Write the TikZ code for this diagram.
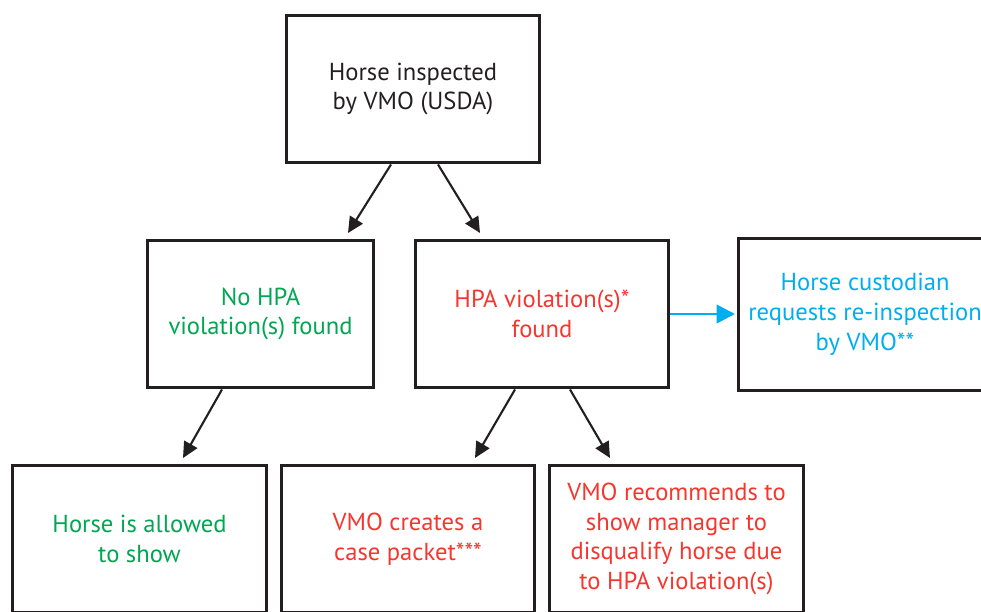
\documentclass[tikz,border=0pt]{standalone}
\usepackage{fontspec}
\setmainfont{PT Sans}
\usetikzlibrary{arrows.meta,positioning}
\usepackage{xcolor}
\definecolor{mblack}{HTML}{231F20}
\definecolor{mgreen}{HTML}{00A651}
\definecolor{mred}{HTML}{F5362E}
\definecolor{mblue}{HTML}{00AEEF}
\tikzstyle{box}=[rectangle, draw=mblack, line width=1.7pt, minimum width=5.08cm, minimum height=2.96cm, align=center, inner sep=0pt, font=\fontsize{14}{17}\selectfont]
\tikzstyle{l1}=[line width=1.2pt, draw=mblack, -{Triangle[length=9pt,width=8.5pt]}]

\begin{document}
\begin{tikzpicture}[x=0.02cm, y=-0.02cm]
    \useasboundingbox (0,0) rectangle (981,612);
    \clip (0,0) rectangle (981,612);

    \node[box, text=mblack] at (413,89) (top) {Horse inspected\\by VMO (USDA)};
    \node[box, minimum width=4.54cm, text=mgreen] at (260.5,314) (nohpa) {No HPA\\violation(s) found};
    \node[box, text=mred] at (542,314) (hpa) {HPA violation(s)*\\found};
    \node[box, minimum height=3.06cm, text=mblue] at (865,314.5) (recheck) {Horse custodian\\requests re-inspection\\by VMO**};
    \node[box, text=mgreen] at (139.5,539) (allowed) {Horse is allowed\\to show};
    \node[box, text=mred] at (408,539) (packet) {VMO creates a\\case packet***};
    \node[box, text=mred] at (676.5,539) (dq) {VMO recommends to\\show manager to\\disqualify horse due\\to HPA violation(s)};

    \draw[l1] (top.south -| 391,0) -- (348,233);
    \draw[l1] (top.south -| 438,0) -- (480,233);
    \draw[l1] (nohpa.south -| 222,0) -- (183,458);
    \draw[l1] (hpa.south -| 515,0) -- (475,458);
    \draw[l1] (hpa.south -| 570,0) -- (610,458);
    \draw[line width=1.6pt, draw=mblue, fill=mblue, -{Triangle[length=10.5pt,width=10.5pt]}] (hpa.east) -- (735,314);
\end{tikzpicture}
\end{document}
